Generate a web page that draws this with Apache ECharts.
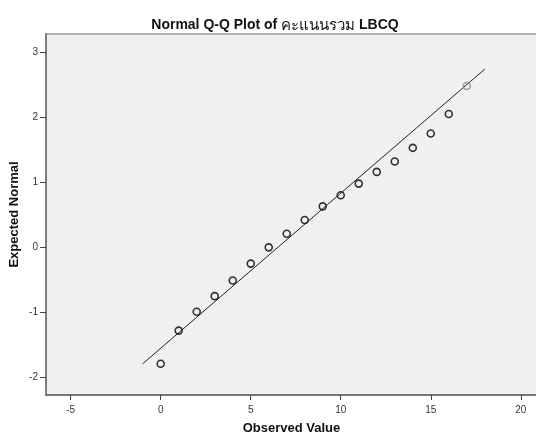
<!DOCTYPE html>
<html>
<head>
<meta charset="utf-8">
<script src="https://cdn.jsdelivr.net/npm/echarts@6/dist/echarts.min.js"></script>
<style>
html,body{margin:0;padding:0;background:#fff;}
#c{width:536px;height:436px;}
</style>
</head>
<body>
<div id="c"></div>
<script>
var observed = [0,1,2,3,4,5,6,7,8,9,10,11,12,13,14,15,16,17];
var expectedNormal = [-1.79,-1.28,-0.99,-0.75,-0.51,-0.25,0.00,0.21,0.42,0.63,0.80,0.98,1.16,1.32,1.53,1.75,2.05,2.48];
var lineX = [-1, 18];
var lineY = [-1.79, 2.74];
var xTicks = [-5,0,5,10,15,20];
var yTicks = [-2,-1,0,1,2,3];
var titleLatin = 'Normal Q-Q Plot of ';
var titleThai = 'คะแนนรวม';
var titleEnd = ' LBCQ';

var font = 'Arial, "Liberation Sans", "Noto Sans", "DejaVu Sans", sans-serif';
var chart = echarts.init(document.getElementById('c'), null, {renderer:'canvas'});
var pts = observed.map(function(x,i){
  var item = {value:[x, expectedNormal[i]]};
  if (i === observed.length-1) item.itemStyle = {borderColor:'#888'};
  return item;
});
chart.setOption({
  animation:false,
  backgroundColor:'#fff',
  title:{
    text:'{b|' + titleLatin + '}{t|' + titleThai + '}{b|' + titleEnd + '}',
    left:270, top:13, textAlign:'center',
    textStyle:{
      rich:{
        b:{fontFamily:font, fontSize:14, fontWeight:'bold', color:'#111'},
        t:{fontFamily:font, fontSize:15, fontWeight:'normal', color:'#111'}
      }
    }
  },
  grid:{left:46, top:34, right:-1, bottom:41, outerBoundsMode:'none', containLabel:false,
        show:true, backgroundColor:'#f0f0f0', borderColor:'#999', borderWidth:1.5},
  xAxis:{
    type:'value', min:-6.37, max:20.9,
    name:'Observed Value', nameLocation:'middle', nameGap:27, nameMoveOverlap:false,
    nameTextStyle:{fontFamily:font, fontSize:13, fontWeight:'bold', color:'#111'},
    splitLine:{show:false},
    axisLine:{onZero:false, lineStyle:{color:'#777', width:1.8}},
    axisTick:{customValues:xTicks, length:5, lineStyle:{color:'#444'}},
    axisLabel:{customValues:xTicks, fontFamily:font, fontSize:10, color:'#333', margin:10}
  },
  yAxis:{
    type:'value', min:-2.27, max:3.28,
    name:'Expected Normal', nameLocation:'middle', nameGap:25, nameMoveOverlap:false,
    nameTextStyle:{fontFamily:font, fontSize:13, fontWeight:'bold', color:'#111'},
    splitLine:{show:false},
    axisLine:{onZero:false, lineStyle:{color:'#777', width:1.8}},
    axisTick:{customValues:yTicks, length:6, lineStyle:{color:'#444'}},
    axisLabel:{customValues:yTicks, fontFamily:font, fontSize:10, color:'#333', margin:8}
  },
  series:[
    {type:'line', data:lineX.map(function(x,i){return [x,lineY[i]];}), symbol:'none',
     lineStyle:{color:'#222', width:1}, silent:true, z:2},
    {type:'scatter', data:pts, symbol:'circle', symbolSize:7,
     itemStyle:{color:'rgba(0,0,0,0)', borderColor:'#000', borderWidth:1.6}, z:3}
  ]
});
</script>
</body>
</html>
